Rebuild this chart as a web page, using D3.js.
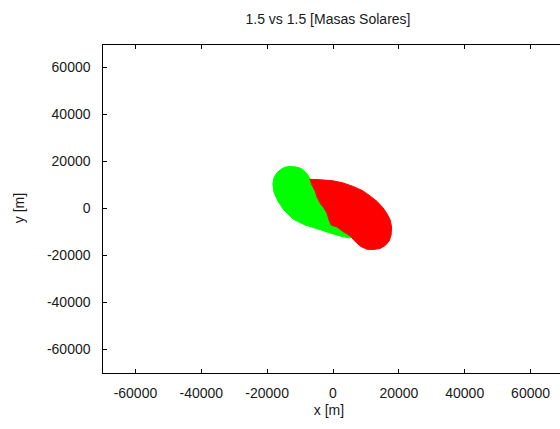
<!DOCTYPE html>
<html>
<head>
<meta charset="utf-8">
<script src="https://cdn.jsdelivr.net/npm/d3@7"></script>
<style>
  html, body { margin: 0; padding: 0; background: #fff; }
  svg { display: block; }
  text { font-family: "Liberation Sans", Arial, sans-serif; font-size: 14px; fill: #1a1a1a; }
</style>
</head>
<body>
<svg id="chart" width="560" height="429"></svg>
<script>
// ---- Data ----
const titleText = "1.5 vs 1.5 [Masas Solares]";
const xLabel = "x [m]";
const yLabel = "y [m]";
const xDomain = [-70000, 70000];
const yDomain = [-70000, 70000];
const xTicks = [-60000, -40000, -20000, 0, 20000, 40000, 60000];
const yTicks = [-60000, -40000, -20000, 0, 20000, 40000, 60000];

// Outline of the green star (x, y in metres)
const starGreenX = [-12900, -11100, -9600, -8400, -7500, -6850, -4400, -800, 3800, 5900, 5300, 2300, -800, -4400, -8400, -12000, -14800, -16600, -17800, -18100, -17800, -16900, -15700, -14500];
const starGreenY = [17800, 17600, 17000, 15700, 14200, 12500, 5700, -2900, -8400, -11800, -12700, -11800, -10500, -8800, -7100, -4600, -700, 3100, 6950, 10350, 12900, 15050, 16550, 17500];

// Outline of the red star (x, y in metres)
const starRedX = [-6850, -3800, 150, 3200, 6250, 9000, 11400, 13550, 15350, 16600, 17500, 17950, 17800, 17200, 16000, 14450, 12350, 10500, 8600, 7000, 5350, 3200, 1350, -450, -1050, -1700, -2600, -3800, -4700, -5300, -6250];
const starRedY = [12350, 12150, 11700, 10800, 9300, 7600, 5250, 2900, 130, -2450, -5000, -7950, -11400, -13950, -15850, -17150, -17600, -17500, -16300, -14300, -11800, -9900, -7950, -7100, -5000, -2000, 130, 2250, 4800, 7400, 9950];

// ---- Layout ----
const svg = d3.select("#chart");
const margin = { left: 102, right: 563, top: 44, bottom: 372.5 };

const x = d3.scaleLinear().domain(xDomain).range([margin.left, margin.right]);
const y = d3.scaleLinear().domain(yDomain).range([margin.bottom, margin.top]);

const line = d3.line().x(d => x(d[0])).y(d => y(d[1])).curve(d3.curveLinearClosed);

const green = starGreenX.map((v, i) => [v, starGreenY[i]]);
const red = starRedX.map((v, i) => [v, starRedY[i]]);

svg.append("path").datum(green).attr("d", line)
  .attr("fill", "#00ff00").attr("stroke", "#00ff00").attr("stroke-width", 1);
svg.append("path").datum(red).attr("d", line)
  .attr("fill", "#ff0000").attr("stroke", "#ff0000").attr("stroke-width", 1);

// ---- Axes (gnuplot style: inward ticks, mirrored) ----
const tickLen = 4;
const fmt = d3.formatLocale({ decimal: ".", thousands: "", grouping: [3], currency: ["", ""], minus: "-" }).format("d");
const ax = svg.append("g").attr("shape-rendering", "crispEdges");

ax.append("rect")
  .attr("x", margin.left + 0.5).attr("y", margin.top + 0.5)
  .attr("width", margin.right - margin.left).attr("height", margin.bottom - margin.top)
  .attr("fill", "none").attr("stroke", "#000").attr("stroke-width", 1);

const bottomAxis = d3.axisBottom(x).tickValues(xTicks).tickSizeInner(-tickLen).tickSizeOuter(0).tickPadding(15).tickFormat(fmt);
const topAxis = d3.axisTop(x).tickValues(xTicks).tickSizeInner(-tickLen).tickSizeOuter(0).tickFormat("");
const leftAxis = d3.axisLeft(y).tickValues(yTicks).tickSizeInner(-tickLen).tickSizeOuter(0).tickPadding(12).tickFormat(fmt);
const rightAxis = d3.axisRight(y).tickValues(yTicks).tickSizeInner(-tickLen).tickSizeOuter(0).tickFormat("");

function styleAxis(g) {
  g.select(".domain").remove();
  g.selectAll(".tick line").attr("stroke", "#000");
  g.selectAll(".tick text").attr("font-family", "Liberation Sans, Arial, sans-serif").attr("font-size", 14).attr("fill", "#1a1a1a");
}

ax.append("g").attr("transform", `translate(0,${margin.bottom + 0.5})`).call(bottomAxis).call(styleAxis);
ax.append("g").attr("transform", `translate(0,${margin.top + 0.5})`).call(topAxis).call(styleAxis);
ax.append("g").attr("transform", `translate(${margin.left + 0.5},0)`).call(leftAxis).call(styleAxis);
ax.append("g").attr("transform", `translate(${margin.right + 0.5},0)`).call(rightAxis).call(styleAxis);

// ---- Titles ----
svg.append("text").attr("x", 328).attr("y", 23.5).attr("text-anchor", "middle").text(titleText);
svg.append("text").attr("x", 329).attr("y", 415).attr("text-anchor", "middle").text(xLabel);
svg.append("text").attr("transform", "translate(24,208) rotate(-90)").attr("text-anchor", "middle").text(yLabel);
</script>
</body>
</html>
